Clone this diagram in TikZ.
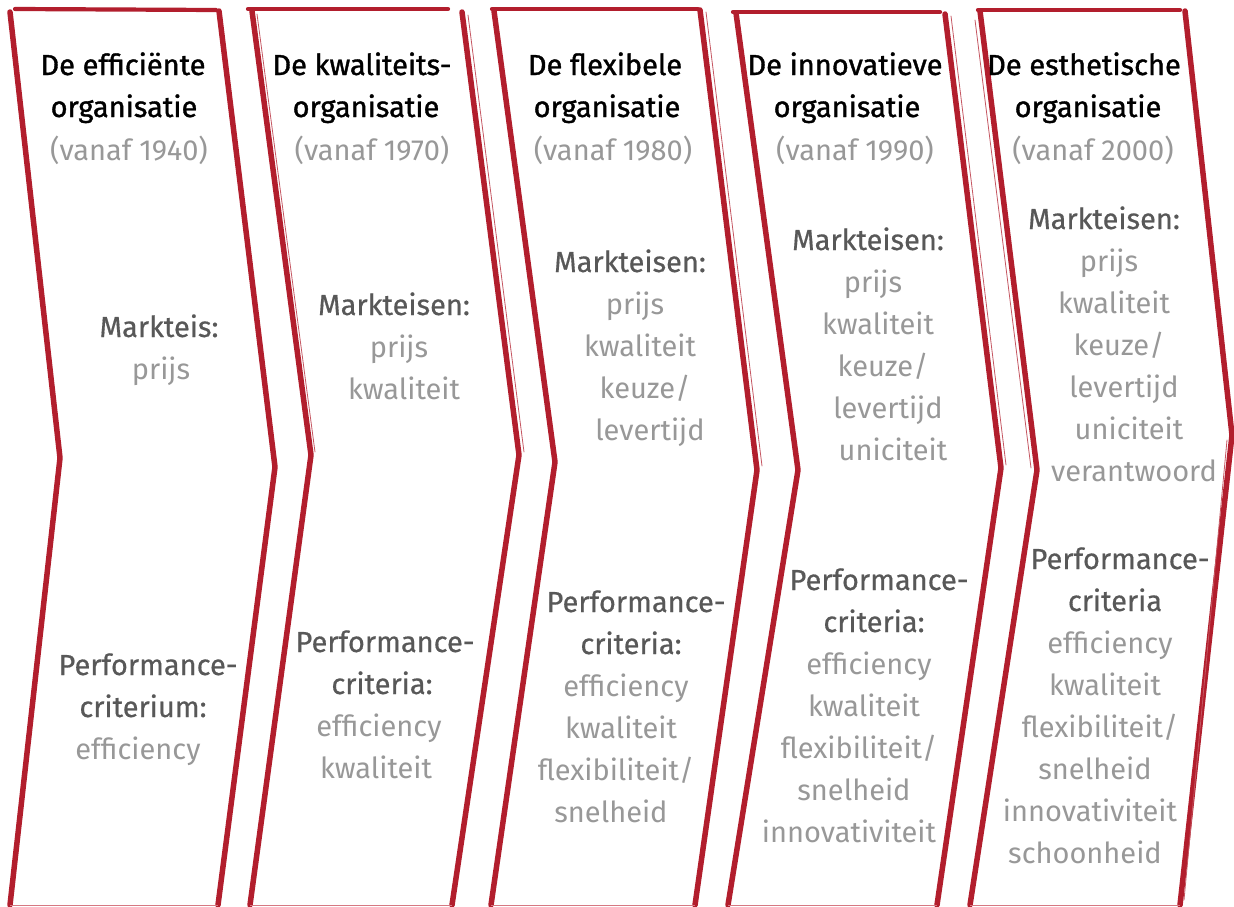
\documentclass[tikz,border=0pt]{standalone}
\usepackage{fontspec}
\setmainfont{Fira Sans}
\newfontfamily\headfont{Fira Sans}[FakeBold=1.2]
\newfontfamily\labfont{Fira Sans}[FakeBold=0.5]
\definecolor{chev}{RGB}{178,30,45}
\definecolor{chevlight}{RGB}{214,120,130}
\definecolor{labgray}{RGB}{88,88,88}
\definecolor{itemgray}{RGB}{152,152,152}
\newcommand\blockat[8]{%
  \foreach \t [count=\i] in {#8} {%
    \ifnum\i>#5 \def\sty{#7}\else\def\sty{#6}\fi
    \node[\sty] (#1-\i) at ({#2+(\i-1)*(#4)},{#3+(\i-1)*42}) {\t};
  }}
\begin{document}
\begin{tikzpicture}[x=1pt,y=-1pt,
  edge/.style={draw=chev,line width=5.5pt,line join=round,line cap=round},
  topedge/.style={draw=chev,line width=4.2pt,line cap=round},
  botedge/.style={draw=chevlight,line width=0.9pt},
  sketch/.style={draw=chev!75,line width=0.8pt,line cap=round},
  txt/.style={anchor=base,inner sep=0pt},
  head/.style={txt,text=black,font=\headfont\fontsize{29}{35}\selectfont},
  lab/.style={txt,text=labgray,font=\labfont\fontsize{29}{35}\selectfont},
  item/.style={txt,text=itemgray,font=\fontsize{29}{35}\selectfont}]
\useasboundingbox (0,0) rectangle (1234,907);
\fill[white] (0,0) rectangle (1234,907);

% ---- panel outlines ----
% panel 1
\draw[topedge] (15,9) -- (216,10);
\draw[edge] (10,12) -- (60,458) -- (10,905);
\draw[edge] (219,11) -- (275,467) -- (218,905);
\draw[botedge] (10,905) -- (218,905);
% panel 2
\draw[topedge] (248,9) -- (448,9);
\draw[edge] (252,11) -- (311,455) -- (250,905);
\draw[sketch] (257,14) -- (315,452);
\draw[edge] (462,12) -- (519,455) -- (452,905);
\draw[sketch] (468,15) -- (524,452);
\draw[botedge] (250,905) -- (452,905);
% panel 3
\draw[topedge] (492,9) -- (698,9);
\draw[edge] (494,11) -- (555,462) -- (491,905);
\draw[edge] (700,10) -- (757,470) -- (695,905);
\draw[sketch] (706,12) -- (762,466);
\draw[botedge] (491,905) -- (695,905);
% panel 4
\draw[topedge] (733,12) -- (940,12);
\draw[edge] (736,13) -- (798,470) -- (728,905);
\draw[edge] (945,14) -- (1001,468) -- (937,905);
\draw[sketch] (951,16) -- (1006,465);
\draw[botedge] (728,905) -- (937,905);
% panel 5
\draw[topedge] (978,10) -- (1180,10);
\draw[edge] (980,11) -- (1037,470) -- (970,905);
\draw[sketch] (975,20) -- (1031,468);
\draw[edge] (1185,11) -- (1232,435) -- (1180,905);
\draw[sketch] (1227,440) -- (1184,900);
\draw[botedge] (900,905) -- (937,905);
\draw[botedge] (970,905) -- (1180,905);

% ---- texts ----
% panel 1
\blockat{h1}{123}{75}{1}{2}{head}{head}{De efficiënte,organisatie}
\node[item] (v1) at (129,160) {(vanaf 1940)};
\blockat{m1}{159}{337}{2}{1}{lab}{item}{Markteis:,prijs}
\blockat{c1}{148}{675}{-5}{2}{lab}{item}{Performance-,criterium:,efficiency}
% panel 2
\blockat{h2}{362}{75}{4}{2}{head}{head}{De kwaliteits-,organisatie}
\node[item] (v2) at (372,160) {(vanaf 1970)};
\blockat{m2}{394}{315}{5}{1}{lab}{item}{Markteisen:,prijs,kwaliteit}
\blockat{c2}{385}{652}{-3}{2}{lab}{item}{Performance-,criteria:,efficiency,kwaliteit}
% panel 3
\blockat{h3}{605}{75}{2}{2}{head}{head}{De flexibele,organisatie}
\node[item] (v3) at (613,160) {(vanaf 1980)};
\blockat{m3}{630}{272}{5}{1}{lab}{item}{Markteisen:,prijs,kwaliteit,keuze/,levertijd}
\blockat{c3}{636}{612}{-5}{2}{lab}{item}{Performance-,criteria:,efficiency,kwaliteit,flexibiliteit/,snelheid}
% panel 4
\blockat{h4}{845}{75}{2}{2}{head}{head}{De innovatieve,organisatie}
\node[item] (v4) at (855,160) {(vanaf 1990)};
\blockat{m4}{868}{250}{5}{1}{lab}{item}{Markteisen:,prijs,kwaliteit,keuze/,levertijd,uniciteit}
\blockat{c4}{879}{590}{-5}{2}{lab}{item}{Performance-,criteria:,efficiency,kwaliteit,flexibiliteit/,snelheid,innovativiteit}
% panel 5
\blockat{h5}{1084}{75}{4}{2}{head}{head}{De esthetische,organisatie}
\node[item] (v5) at (1093,160) {(vanaf 2000)};
\blockat{m5}{1104}{229}{5}{1}{lab}{item}{Markteisen:,prijs,kwaliteit,keuze/,levertijd,uniciteit,verantwoord}
\blockat{c5}{1120}{569}{-5}{2}{lab}{item}{Performance-,criteria,efficiency,kwaliteit,flexibiliteit/,snelheid,innovativiteit,schoonheid}
\end{tikzpicture}
\end{document}
